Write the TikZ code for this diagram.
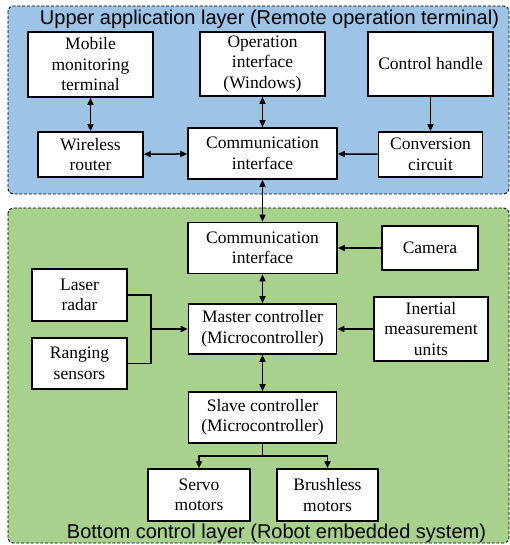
\documentclass[tikz,border=0pt]{standalone}
\usepackage{fontspec}
\setmainfont{Liberation Serif}
\newfontfamily\layerfont{Liberation Sans}
\usetikzlibrary{arrows.meta}
\definecolor{upperblue}{RGB}{157,195,230}
\definecolor{lowergreen}{RGB}{169,209,142}
\tikzset{
  layer box/.style={
    draw=black, line width=0.9pt, dash pattern=on 3pt off 1.8pt,
    rounded corners=5pt
  },
  layer title/.style={
    font=\layerfont\fontsize{20}{24}\selectfont, anchor=base, inner sep=0pt
  },
  unit box/.style={
    rectangle, draw=black, line width=1.6pt, fill=white, align=center,
    inner sep=0pt, font=\fontsize{17.5}{20.5}\selectfont
  },
  link/.style={line width=1.5pt},
  link arrow/.style={link, -{Triangle[length=7pt,width=6pt]}},
  link both/.style={link, {Triangle[length=7pt,width=6pt]}-{Triangle[length=7pt,width=6pt]}}
}

\begin{document}
\begin{tikzpicture}[x=1pt, y=-1pt]
    \useasboundingbox (0,0) rectangle (510,545);
    % the two layers
    \path[layer box, fill=upperblue] (8,6) rectangle (509,194);
    \path[layer box, fill=lowergreen] (8,208) rectangle (509,543);
    \node[layer title] (uppertitle) at (269.5,25) {Upper application layer (Remote operation terminal)};
    \node[layer title] (bottomtitle) at (276.5,538) {Bottom control layer (Robot embedded system)};

    % upper application layer
    \node[unit box, minimum width=125, minimum height=65] (mobile) at (90.5,64.5) {Mobile\\monitoring\\terminal};
    \node[unit box, minimum width=125, minimum height=64] (operation) at (262.5,64) {Operation\\interface\\(Windows)};
    \node[unit box, minimum width=125, minimum height=64] (handle) at (430.5,64) {Control handle};
    \node[unit box, minimum width=105, minimum height=45] (router) at (90.5,154.5) {Wireless\\router};
    \node[unit box, minimum width=149, minimum height=51] (commup) at (262.5,153.5) {Communication\\interface};
    \node[unit box, minimum width=104, minimum height=45] (conversion) at (430.5,154.5) {Conversion\\circuit};

    % bottom control layer
    \node[unit box, minimum width=149, minimum height=51] (commdown) at (262.5,248) {Communication\\interface};
    \node[unit box, minimum width=96, minimum height=44] (camera) at (430,248) {Camera};
    \node[unit box, minimum width=95, minimum height=52] (laser) at (79.5,295) {Laser\\radar};
    \node[unit box, minimum width=95, minimum height=51] (ranging) at (79.5,363.5) {Ranging\\sensors};
    \node[unit box, minimum width=148, minimum height=50] (master) at (262.5,329) {Master controller\\(Microcontroller)};
    \node[unit box, minimum width=114, minimum height=64] (imu) at (431,329) {Inertial\\measurement\\units};
    \node[unit box, minimum width=148, minimum height=51] (slave) at (262.5,417.5) {Slave controller\\(Microcontroller)};
    \node[unit box, minimum width=102, minimum height=52] (servo) at (199,495) {Servo\\motors};
    \node[unit box, minimum width=101, minimum height=52] (brushless) at (327.5,495) {Brushless\\motors};
    \coordinate (merge) at (151,329);
    \coordinate (split) at (262.5,456);

    \draw[link both] (mobile) -- (router);
    \draw[link both] (router) -- (commup);
    \draw[link both] (operation) -- (commup);
    \draw[link arrow] (handle) -- (conversion);
    \draw[link arrow] (conversion) -- (commup);
    \draw[link both] (commup) -- (commdown);
    \draw[link arrow] (camera) -- (commdown);
    \draw[link both] (commdown) -- (master);
    \draw[link] (laser.east) -| (merge);
    \draw[link] (ranging.east) -| (merge);
    \draw[link arrow] (merge) -- (master);
    \draw[link arrow] (imu) -- (master);
    \draw[link both] (master) -- (slave);
    \draw[link] (slave) -- (split);
    \draw[link arrow] (split) -| (servo);
    \draw[link arrow] (split) -| (brushless);
  \end{tikzpicture}
\end{document}
